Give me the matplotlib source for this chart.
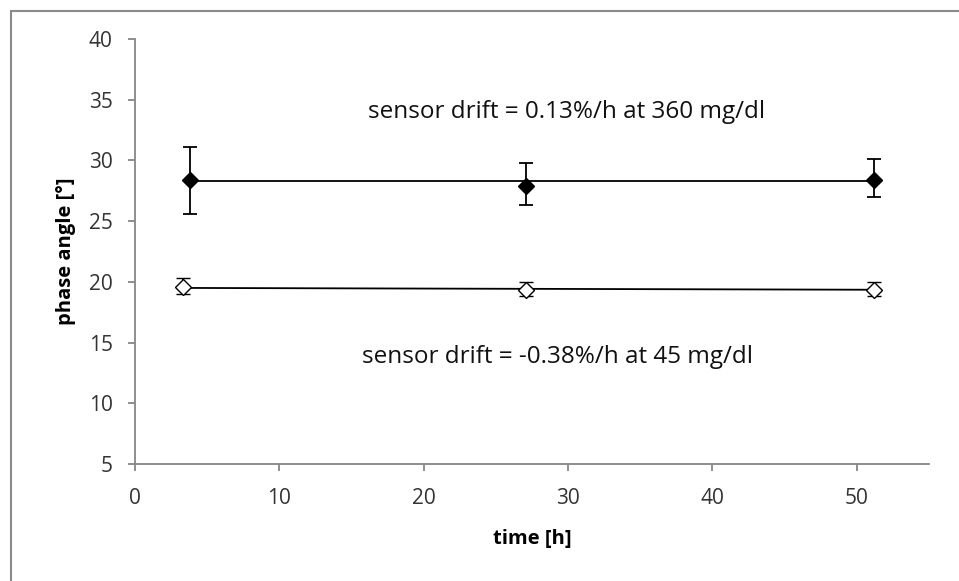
import matplotlib
matplotlib.use("Agg")
import matplotlib.pyplot as plt
from matplotlib.patches import Rectangle

# data
t_high = [3.8, 27.1, 51.2]
phase_high = [28.4, 27.9, 28.4]
err_high_lo = [2.8, 1.6, 1.4]
err_high_hi = [2.7, 1.9, 1.7]
trend_high_x = [3.8, 51.2]
trend_high_y = [28.3, 28.3]

t_low = [3.3, 27.1, 51.2]
phase_low = [19.6, 19.35, 19.35]
err_low_lo = [0.6, 0.55, 0.55]
err_low_hi = [0.75, 0.6, 0.6]
trend_low_x = [3.3, 51.2]
trend_low_y = [19.5, 19.35]

xticks = [0, 10, 20, 30, 40, 50]
yticks = [5, 10, 15, 20, 25, 30, 35, 40]
label_high = "sensor drift = 0.13%/h at 360 mg/dl"
label_low = "sensor drift = -0.38%/h at 45 mg/dl"

plt.rcParams['font.family'] = ['Open Sans', 'DejaVu Sans']

fig = plt.figure(figsize=(9.59, 5.81), dpi=100)
ax = fig.add_axes([135/959, 1-464/581, (929-135)/959, (464-39)/581])

axis_col = '#868686'
ax.plot(trend_high_x, trend_high_y, color='black', lw=1.3, zorder=2)
ax.plot(trend_low_x, trend_low_y, color='black', lw=1.3, zorder=2)

ax.errorbar(t_high, phase_high, yerr=[err_high_lo, err_high_hi], fmt='D', color='black',
            mfc='black', mec='black', ms=8, capsize=5, elinewidth=1.3, capthick=1.3, zorder=3)
ax.errorbar(t_low, phase_low, yerr=[err_low_lo, err_low_hi], fmt='D', color='black',
            mfc='white', mec='black', ms=8, mew=1.0, capsize=5, elinewidth=1.3, capthick=1.3, zorder=3)

ax.set_xlim(0, 55)
ax.set_ylim(5, 40)
ax.set_xticks(xticks)
ax.set_yticks(yticks)
for s in ['top', 'right']:
    ax.spines[s].set_visible(False)
for s in ['left', 'bottom']:
    ax.spines[s].set_color(axis_col)
    ax.spines[s].set_linewidth(1.3)
ax.tick_params(direction='out', length=5, width=1.3, color=axis_col, labelsize=15,
               labelcolor='#333333')
ax.tick_params(axis='y', pad=11)
ax.tick_params(axis='x', pad=12)

ax.text(29.9, 34.0, label_high, fontsize=17.5, ha='center', va='center', color='#111111')
ax.text(29.3, 13.8, label_low, fontsize=17.5, ha='center', va='center', color='#111111')

ax.set_xlabel("time [h]", fontsize=14.5, fontweight='bold', labelpad=15)
ax.set_ylabel("phase angle [°]", fontsize=14.5, fontweight='bold', labelpad=9)

fig.patches.append(Rectangle((11/959, -0.1), 1.2, 1-11/581+0.1, transform=fig.transFigure,
                             fill=False, edgecolor='#8a8a8a', lw=1.5))

fig.savefig("out.png", dpi=100)
